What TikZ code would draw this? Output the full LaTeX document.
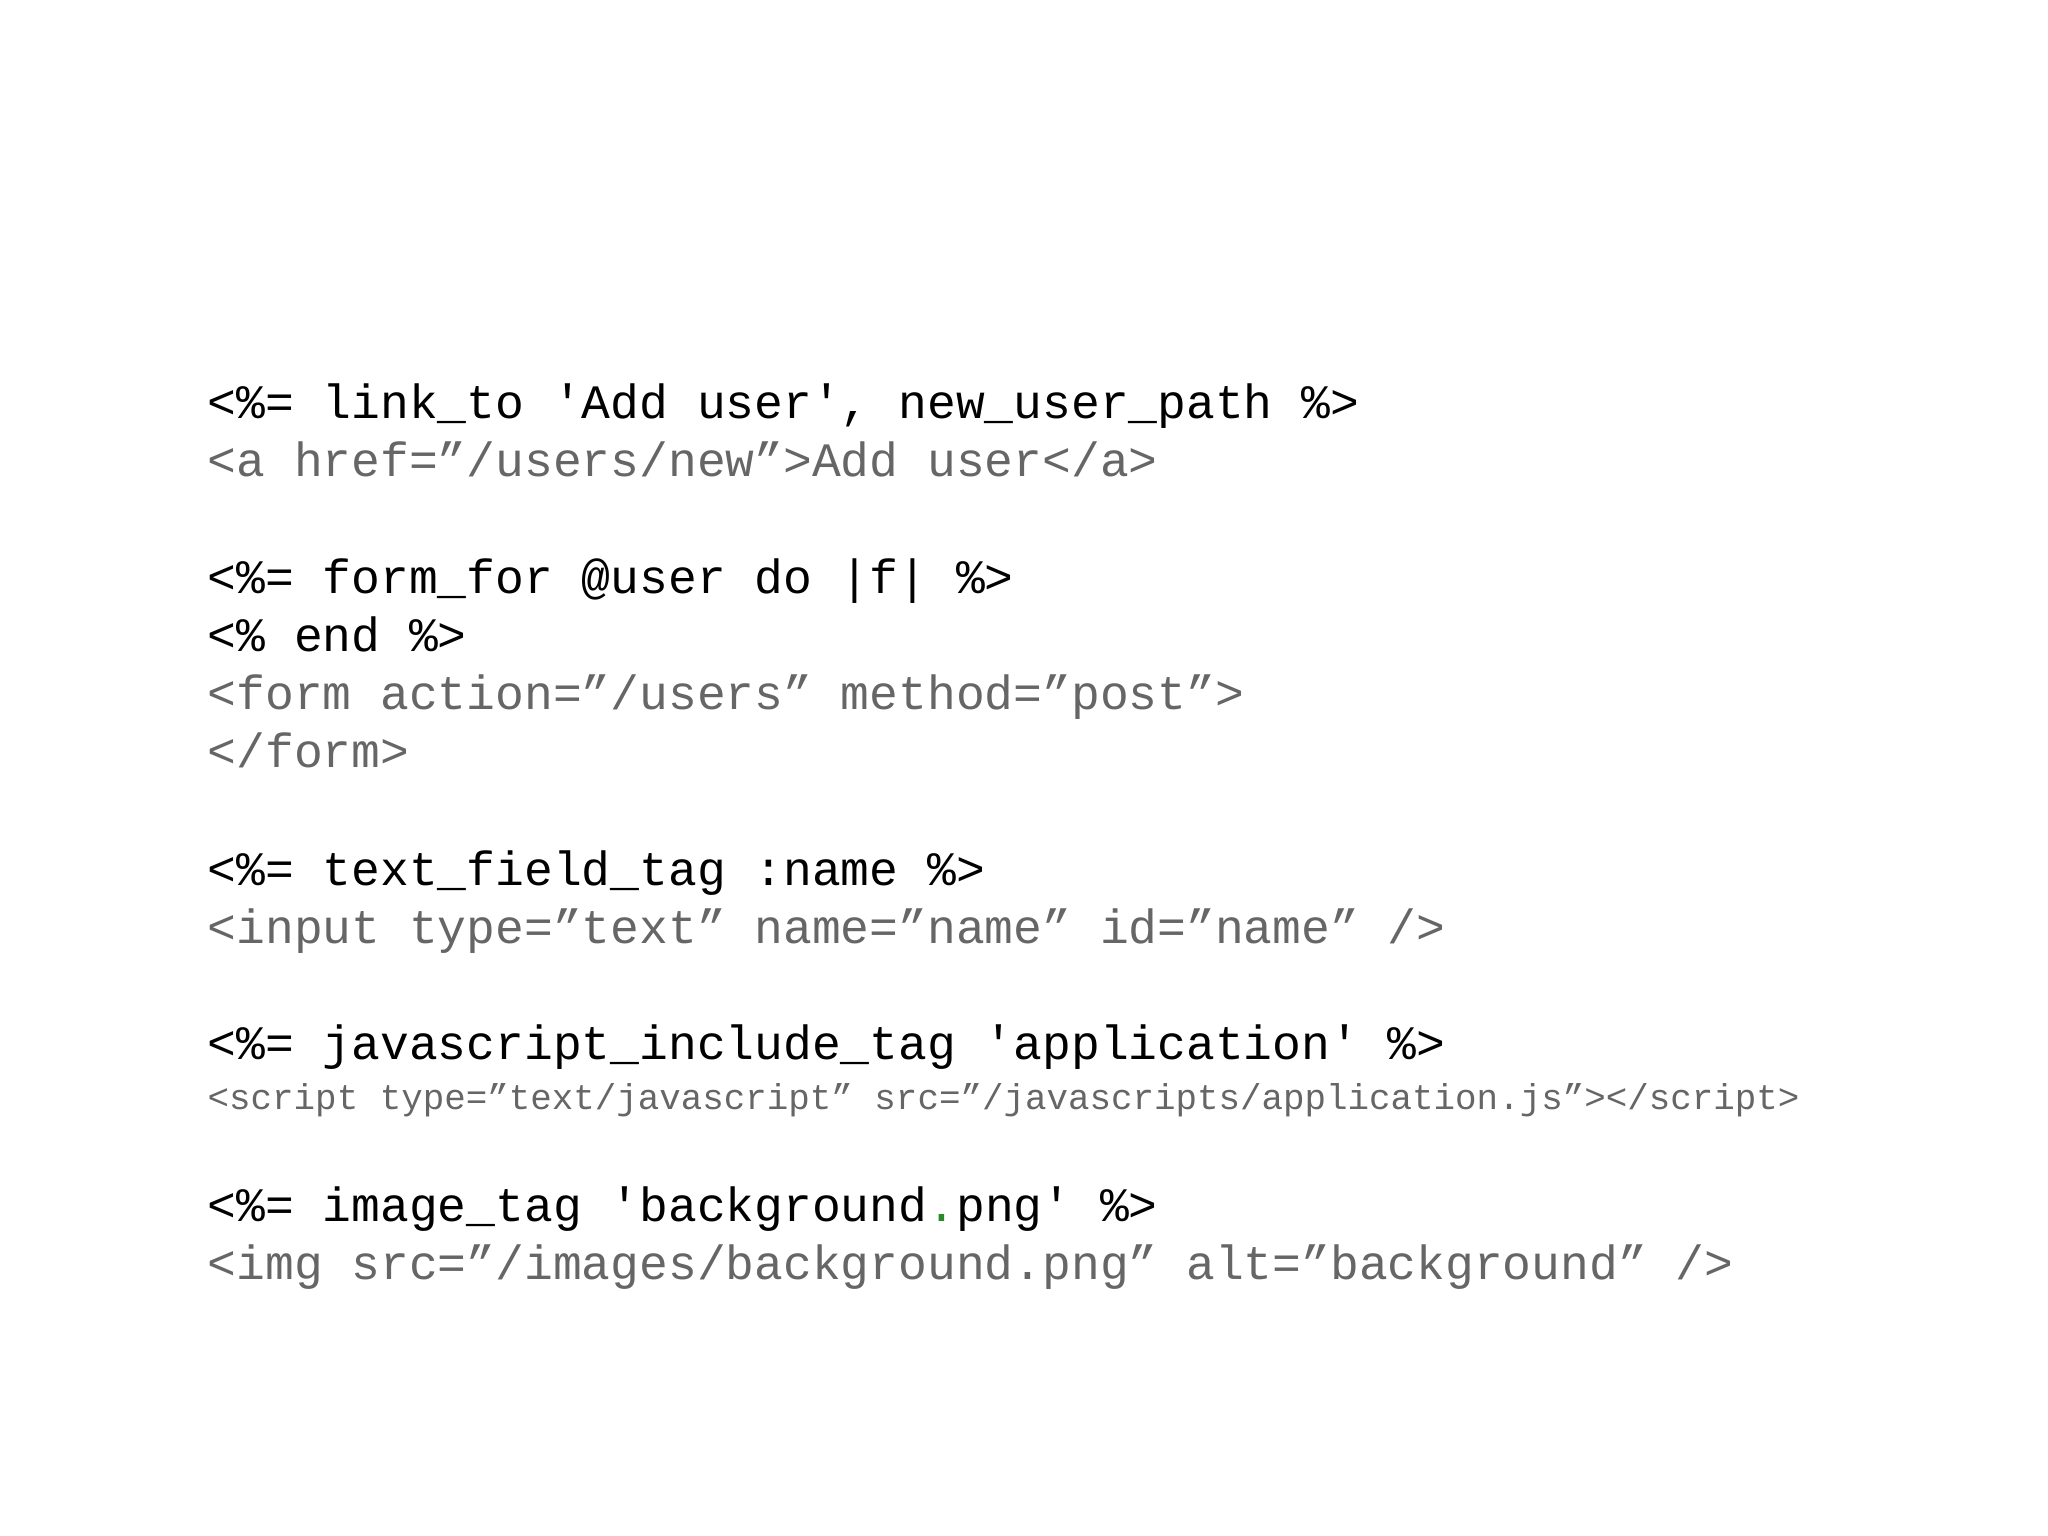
\documentclass[tikz,border=0pt]{standalone}
\usepackage{fontspec}
\newfontfamily\code{Liberation Mono}
\definecolor{gr}{HTML}{666666}
\definecolor{dg}{HTML}{2A8A2A}
\begin{document}
\begin{tikzpicture}[x=1cm,y=1cm,
  big/.style={anchor=mid west,inner sep=0pt,font=\code\fontsize{13.65pt}{16pt}\selectfont,text=black},
  gbig/.style={big,text=gr},
  gsmall/.style={anchor=mid west,inner sep=0pt,font=\code\fontsize{10.2pt}{12pt}\selectfont,text=gr}]
\useasboundingbox (0,0) rectangle (20.48,15.36);
\fill[white] (0,0) rectangle (20.48,15.36);
\node[big] (l1) at (2.07,15.36-4.11) {<\%= link\_to 'Add user', new\_user\_path \%>};
\node[gbig] (l2) at (2.07,15.36-4.69) {<a href=”/users/new”>Add user</a>};
\node[big] (l3) at (2.07,15.36-5.86) {<\%= form\_for @user do |f| \%>};
\node[big] (l4) at (2.07,15.36-6.44) {<\% end \%>};
\node[gbig] (l5) at (2.07,15.36-7.02) {<form action=”/users” method=”post”>};
\node[gbig] (l6) at (2.07,15.36-7.60) {</form>};
\node[big] (l7) at (2.07,15.36-8.78) {<\%= text\_field\_tag :name \%>};
\node[gbig] (l8) at (2.07,15.36-9.36) {<input type=”text” name=”name” id=”name” />};
\node[big] (l9) at (2.07,15.36-10.52) {<\%= javascript\_include\_tag 'application' \%>};
\node[gsmall] (l10) at (2.07,15.36-11.02) {<script type=”text/javascript” src=”/javascripts/application.js”></script>};
\node[big] (l11) at (2.07,15.36-12.14) {<\%= image\_tag 'background{\color{dg}.}png' \%>};
\node[gbig] (l12) at (2.07,15.36-12.72) {<img src=”/images/background.png” alt=”background” />};
\end{tikzpicture}
\end{document}
